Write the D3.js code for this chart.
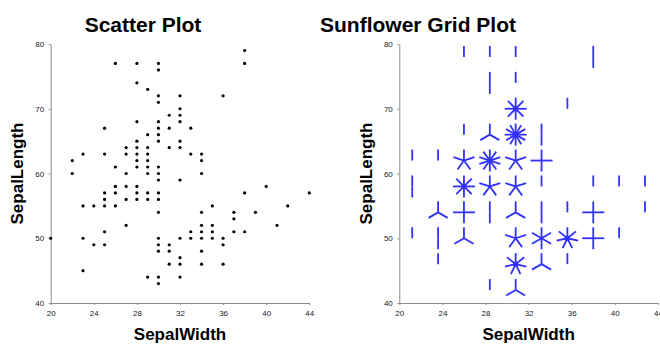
<!DOCTYPE html>
<html>
<head>
<meta charset="utf-8">
<script src="https://cdn.jsdelivr.net/npm/d3@7"></script>
<style>
  body { margin: 0; background: #fff; }
  svg text { font-family: "Liberation Sans", Arial, sans-serif; }
</style>
</head>
<body>
<svg id="chart" width="660" height="346"></svg>
<script>
// scatter points: [SepalWidth, SepalLength] (distinct pairs)
const scatterPoints = [
  [26,77],[28,77],[30,77],[30,76],[38,79],[38,77],[28,74],[29,73],[30,72],[32,72],[36,72],
  [30,71],[32,70],[31,69],[32,69],[28,68],[30,68],[32,68],[25,67],[30,67],[31,67],[33,67],
  [29,66],[30,66],[28,65],[30,65],[32,65],[27,64],[28,64],[29,64],[31,64],[32,64],
  [23,63],[25,63],[27,63],[28,63],[29,63],[33,63],[34,63],[22,62],[28,62],[29,62],[34,62],
  [26,61],[28,61],[29,61],[30,61],[22,60],[27,60],[29,60],[30,60],[34,60],[30,59],[32,59],
  [26,58],[27,58],[28,58],[40,58],
  [25,57],[26,57],[28,57],[29,57],[30,57],[38,57],[44,57],
  [25,56],[27,56],[28,56],[29,56],[30,56],
  [23,55],[24,55],[25,55],[26,55],[35,55],[42,55],
  [30,54],[34,54],[37,54],[39,54],[37,53],
  [27,52],[34,52],[35,52],[41,52],
  [25,51],[33,51],[34,51],[35,51],[37,51],[38,51],
  [20,50],[23,50],[30,50],[32,50],[33,50],[34,50],[35,50],[36,50],
  [24,49],[25,49],[30,49],[31,49],[36,49],
  [30,48],[31,48],[34,48],[32,47],
  [31,46],[32,46],[34,46],[36,46],[23,45],
  [29,44],[30,44],[32,44],[30,43]
];

// sunflower grid: cell centers and counts (rows top to bottom)
const gridX = [21.2, 23.6, 26.0, 28.4, 30.8, 33.2, 35.6, 38.0, 40.4, 42.8];
const gridY = [78, 74, 70, 66, 62, 58, 54, 50, 46, 42];
const gridCounts = [
  [0,0,1,1,1,0,0,2,0,0],
  [0,0,0,2,1,0,0,0,0,0],
  [0,0,0,0,8,0,1,0,0,0],
  [0,0,1,3,12,2,0,0,0,0],
  [1,1,5,10,5,4,0,0,0,0],
  [2,0,8,5,5,1,0,1,1,1],
  [0,3,4,2,3,2,1,4,0,1],
  [1,2,3,0,5,6,7,4,1,0],
  [0,1,0,0,7,3,1,0,0,0],
  [0,0,0,1,3,0,0,0,0,0]
];

const xTicks = [20, 24, 28, 32, 36, 40, 44];
const yTicks = [40, 50, 60, 70, 80];

const svg = d3.select("#chart");
const plotTop = 44, plotBottom = 303;
const petalLen = 11;
const flowerColor = "#3030ff";

function drawAxes(g, x, y) {
  const xa = g.append("g")
    .attr("transform", `translate(0,${plotBottom})`)
    .call(d3.axisBottom(x).tickValues(xTicks).tickSize(2).tickSizeOuter(0).tickPadding(5.5));
  const ya = g.append("g")
    .attr("transform", `translate(${x.range()[0]},0)`)
    .call(d3.axisLeft(y).tickValues(yTicks).tickSize(2).tickSizeOuter(0).tickPadding(4.5));
  [xa, ya].forEach(a => {
    a.select(".domain").attr("stroke", "#8c8c8c");
    a.selectAll(".tick line").attr("stroke", "#8c8c8c");
    a.selectAll(".tick text")
      .attr("fill", "#222")
      .style("font-size", "8px")
      .style("font-family", "'Liberation Sans', Arial, sans-serif");
  });
}

function drawTitles(g, x, title, titleX) {
  const cx = (x.range()[0] + x.range()[1]) / 2;
  g.append("text")
    .attr("x", titleX).attr("y", 32)
    .attr("text-anchor", "middle")
    .style("font-size", "21px").style("font-weight", "bold")
    .text(title);
  g.append("text")
    .attr("x", cx).attr("y", 340)
    .attr("text-anchor", "middle")
    .style("font-size", "17px").style("font-weight", "bold")
    .text("SepalWidth");
  g.append("text")
    .attr("transform", `translate(${x.range()[0] - 27.5},${(plotTop + plotBottom) / 2}) rotate(-90)`)
    .attr("text-anchor", "middle")
    .style("font-size", "17px").style("font-weight", "bold")
    .text("SepalLength");
}

// left panel: scatter
const x1 = d3.scaleLinear().domain([20, 44]).range([50.7, 309.3]);
const y1 = d3.scaleLinear().domain([40, 80]).range([plotBottom, plotTop]);
const g1 = svg.append("g");
drawAxes(g1, x1, y1);
drawTitles(g1, x1, "Scatter Plot", 143);
g1.append("g").selectAll("circle")
  .data(scatterPoints)
  .join("circle")
    .attr("cx", d => x1(d[0]))
    .attr("cy", d => y1(d[1]))
    .attr("r", 1.6)
    .attr("fill", "#000");

// right panel: sunflower grid
const x2 = d3.scaleLinear().domain([20, 44]).range([399.3, 657.9]);
const y2 = d3.scaleLinear().domain([40, 80]).range([plotBottom, plotTop]);
const g2 = svg.append("g");
drawAxes(g2, x2, y2);
drawTitles(g2, x2, "Sunflower Grid Plot", 418);

const cells = [];
gridCounts.forEach((row, ri) => row.forEach((n, ci) => {
  if (n > 0) cells.push({ x: gridX[ci], y: gridY[ri], n });
}));

const flowers = g2.append("g").selectAll("g")
  .data(cells)
  .join("g")
    .attr("transform", d => `translate(${x2(d.x)},${y2(d.y)})`);

flowers.selectAll("line")
  .data(d => d3.range(d.n).map(k => Math.PI / 2 + k * 2 * Math.PI / d.n))
  .join("line")
    .attr("x1", 0).attr("y1", 0)
    .attr("x2", a => petalLen * Math.cos(a))
    .attr("y2", a => -petalLen * Math.sin(a))
    .attr("stroke", flowerColor)
    .attr("stroke-width", 1.8);

flowers.filter(d => d.n >= 7)
  .append("circle")
    .attr("r", 2.6)
    .attr("fill", flowerColor);
</script>
</body>
</html>
